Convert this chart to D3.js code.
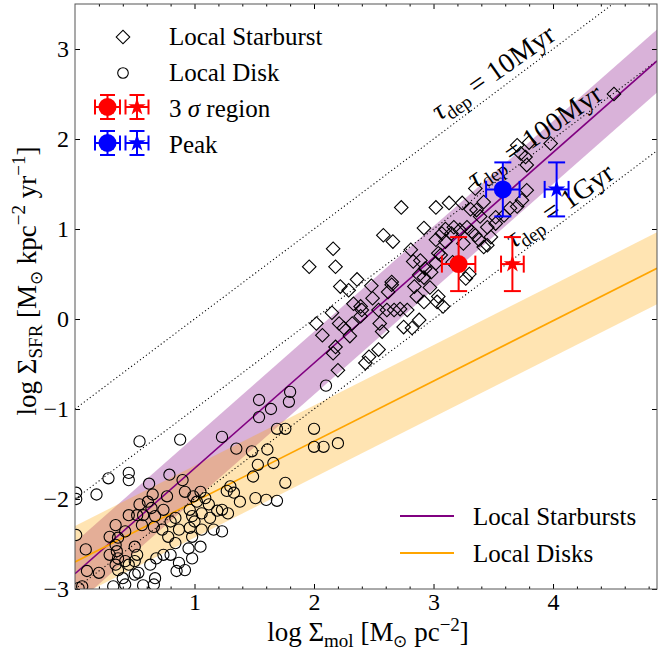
<!DOCTYPE html>
<html><head><meta charset="utf-8">
<script src="https://cdn.jsdelivr.net/npm/d3@7"></script>
<style>
body{margin:0;background:#fff}
svg{display:block}
text{font-family:"Liberation Serif","Times New Roman",serif;fill:#000}
</style>
</head><body>
<svg id="c" width="658" height="654"></svg>
<script>
// ---------------- data ----------------
const xDomain = [0, 4.87];
const yDomain = [-3, 3.5];
const xTicks = [1, 2, 3, 4];
const yTicks = [-3, -2, -1, 0, 1, 2, 3];

// Local Starburst (diamonds): [log Σmol, log ΣSFR]
const starburst = [
 [2.73,1.24],[3.02,1.24],[2.92,1.01],[2.58,0.93],[2.66,0.86],[2.16,0.78],[1.96,0.58],[2.18,0.58],
 [2.81,0.77],[2.83,0.64],[2.89,0.65],[2.92,0.46],[3.04,0.73],[2.97,0.35],[2.92,0.19],[3.03,0.19],
 [2.22,0.36],[2.29,0.32],[2.36,0.44],[2.48,0.37],[2.49,0.23],[2.65,0.41],[2.65,0.38],[2.33,0.17],
 [2.39,0.14],[2.40,0.10],[2.15,0.07],[2.02,-0.05],[2.07,-0.18],[2.21,-0.05],[2.25,-0.10],[2.30,-0.19],
 [2.32,-0.05],[2.54,0.10],[2.61,0.10],[2.67,0.10],[2.72,0.11],[2.55,-0.05],[2.57,-0.14],[2.75,-0.09],
 [2.82,-0.10],[2.88,-0.01],[2.86,0.25],[2.18,-0.31],[2.16,-0.38],[2.20,-0.57],[2.54,-0.34],[2.46,-0.42],
 [2.43,-0.49],[3.35,1.45],[3.13,1.29],[3.24,1.29],[3.36,1.21],[3.07,0.95],[3.17,1.02],[3.22,0.99],
 [3.28,1.02],[3.35,0.93],[3.45,0.82],[3.38,0.88],[3.02,0.88],[3.10,0.86],[3.06,0.71],[3.02,0.62],
 [2.93,0.56],[2.88,0.49],[3.04,0.25],[3.08,0.14],[3.27,0.45],[3.25,0.84],[2.78,0.10],[3.70,1.93],
 [3.80,1.96],[3.73,1.84],[3.78,1.71],[3.42,1.30],[3.78,1.43],[3.74,1.32],[3.70,1.25],[3.64,1.23],
 [3.59,1.15],[3.52,1.13],[3.45,1.02],[3.48,0.91],[4.51,2.50],[3.98,1.95],[3.77,1.80],[3.39,1.14],
 [3.31,1.22],[3.10,1.00],[3.15,0.95],[3.52,1.06],[2.84,0.36],[3.16,0.63],[3.30,0.50],[2.98,0.52],
 [2.62,0.30],[2.39,0.03],[3.42,0.80],[3.32,0.97]
];

// Local Disk (circles): [log Σmol, log ΣSFR]
const disk = [
 [0.88,-1.34],[1.23,-1.31],[1.35,-1.44],[1.48,-1.47],[1.61,-1.45],[1.54,-0.90],[1.64,-1.00],[1.54,-1.09],
 [1.80,-0.81],[1.79,-0.92],[1.69,-1.22],[1.76,-1.22],[1.53,-1.62],[1.66,-1.60],[2.00,-1.22],[2.00,-1.42],
 [2.08,-1.42],[2.20,-1.38],[2.10,-0.74],[1.49,-1.75],[1.76,-1.82],[1.51,-1.99],[1.60,-2.01],[1.69,-2.02],
 [0.54,-1.36],[0.28,-1.77],[0.45,-1.71],[0.45,-1.79],[0.18,-1.95],[0.01,-1.93],[0.01,-2.00],[0.62,-1.83],
 [0.01,-2.40],[0.79,-1.73],[0.90,-1.79],[0.65,-1.95],[0.77,-1.97],[0.92,-1.92],[0.99,-1.97],[1.05,-1.92],
 [1.09,-1.99],[1.02,-2.03],[1.12,-2.06],[1.27,-1.91],[1.33,-1.93],[1.38,-2.03],[1.19,-2.13],[1.28,-2.16],
 [1.13,-2.21],[1.06,-2.16],[0.96,-2.12],[0.98,-2.19],[1.00,-2.25],[1.06,-2.34],[0.96,-2.32],[0.98,-2.42],
 [1.23,-2.36],[1.16,-2.34],[0.95,-2.55],[1.05,-2.53],[0.98,-2.66],[0.87,-2.71],[0.92,-2.79],[0.85,-2.80],
 [0.84,-2.49],[0.80,-2.62],[0.74,-2.62],[0.68,-2.66],[0.63,-2.73],[0.53,-2.82],[0.50,-2.84],[0.67,-2.88],
 [0.66,-2.95],[0.57,-2.96],[0.40,-2.88],[0.42,-2.95],[0.32,-2.97],[0.20,-2.82],[0.10,-2.80],[0.06,-2.97],
 [0.03,-2.99],[0.34,-2.73],[0.36,-2.66],[0.35,-2.58],[0.42,-2.69],[0.45,-2.73],[0.50,-2.69],[0.52,-2.62],
 [0.50,-2.53],[0.29,-2.42],[0.34,-2.51],[0.36,-2.43],[0.34,-2.29],[0.42,-2.36],[0.45,-2.18],[0.52,-2.18],
 [0.56,-2.29],[0.67,-2.19],[0.66,-2.31],[0.73,-2.34],[0.80,-2.25],[0.84,-2.21],[0.87,-2.34],[0.78,-2.42],
 [0.74,-2.12],[0.64,-2.10],[0.61,-2.03],[0.54,-2.06],[0.29,-2.62],[0.36,-2.79],[1.30,-1.86],[0.09,-2.56],
 [1.23,-2.12],[0.57,-2.18]
];

// Fits: log ΣSFR = intercept + slope * log Σmol, shaded ± scatter
const fitNames = ["Local Starbursts", "Local Disks"];
const fitIntercepts = [-2.83, -2.70];
const fitSlopes = [1.17, 0.67];
const fitScatter = [0.35, 0.40];

// Depletion-time lines: log ΣSFR = log Σmol - offset
const tdepNames = ["10Myr", "100Myr", "1Gyr"];
const tdepOffsets = [1, 2, 3];
const tdepLabelX = [3.05, 3.35, 3.67];
const tdepLabelY = [2.20, 1.45, 0.78];

// Measured points (circle and star), rows: 3σ region, Peak
const pointNames = ["3 σ region", "Peak"];
const circleX = [3.21, 3.58];
const starX = [3.66, 4.03];
const pointY = [0.61, 1.44];
const circleXErr = [0.14, 0.14];
const starXErr = [0.095, 0.10];
const pointYErr = [0.30, 0.30];

// ---------------- drawing ----------------
const pointColors = ["#ff0000", "#0000ff"];
const fitColors = ["#800080", "#ffa500"];
const svg = d3.select("#c");
const L = 75, R = 657, T = 4, B = 589;
const x = d3.scaleLinear().domain(xDomain).range([L, R]);
const y = d3.scaleLinear().domain(yDomain).range([B, T]);

svg.append("defs").append("clipPath").attr("id", "clip")
  .append("rect").attr("x", L).attr("y", T).attr("width", R - L).attr("height", B - T);
const plot = svg.append("g").attr("clip-path", "url(#clip)");

// bands
fitNames.forEach((n, i) => {
  const a = fitIntercepts[i], b = fitSlopes[i], w = fitScatter[i];
  const area = d3.area().x(d => x(d))
    .y0(d => y(a + b * d - w)).y1(d => y(a + b * d + w));
  plot.append("path").datum(xDomain).attr("d", area)
    .attr("fill", fitColors[i]).attr("fill-opacity", 0.3);
});

// depletion lines
tdepOffsets.forEach(o => {
  const line = d3.line().x(d => x(d)).y(d => y(d - o));
  plot.append("path").datum(xDomain).attr("d", line)
    .attr("fill", "none").attr("stroke", "#000").attr("stroke-width", 1.1)
    .attr("stroke-dasharray", "1.1,2.6");
});

// fit lines
fitNames.forEach((n, i) => {
  const line = d3.line().x(d => x(d)).y(d => y(fitIntercepts[i] + fitSlopes[i] * d));
  plot.append("path").datum(xDomain).attr("d", line)
    .attr("fill", "none").attr("stroke", fitColors[i]).attr("stroke-width", 1.6);
});

// disk circles
plot.selectAll("circle.disk").data(disk).join("circle")
  .attr("cx", d => x(d[0])).attr("cy", d => y(d[1])).attr("r", 5.6)
  .attr("fill", "none").attr("stroke", "#000").attr("stroke-width", 1.1);

// starburst diamonds
const diamond = d3.symbol(d3.symbolSquare, 92)();
plot.selectAll("path.sb").data(starburst).join("path")
  .attr("d", diamond)
  .attr("transform", d => `translate(${x(d[0])},${y(d[1])}) rotate(45)`)
  .attr("fill", "none").attr("stroke", "#000").attr("stroke-width", 1.1);

// tdep labels
tdepNames.forEach((n, i) => {
  const t = svg.append("text")
    .attr("transform", `translate(${x(tdepLabelX[i])},${y(tdepLabelY[i])}) rotate(-35)`)
    .attr("font-size", 28);
  t.append("tspan").attr("font-style", "italic").text("τ");
  t.append("tspan").attr("font-size", 19).attr("dy", 6).text("dep");
  t.append("tspan").attr("dy", -6).text(" = " + n);
});

// error-bar points
function errPoint(g, cx, cy, hx, hy, cap, color, kind) {
  const s = g.append("g").attr("stroke", color).attr("stroke-width", 2).attr("fill", "none");
  s.append("line").attr("x1", cx - hx).attr("x2", cx + hx).attr("y1", cy).attr("y2", cy);
  s.append("line").attr("x1", cx).attr("x2", cx).attr("y1", cy - hy).attr("y2", cy + hy);
  s.append("line").attr("x1", cx - cap).attr("x2", cx + cap).attr("y1", cy - hy).attr("y2", cy - hy);
  s.append("line").attr("x1", cx - cap).attr("x2", cx + cap).attr("y1", cy + hy).attr("y2", cy + hy);
  s.append("line").attr("x1", cx - hx).attr("x2", cx - hx).attr("y1", cy - cap).attr("y2", cy + cap);
  s.append("line").attr("x1", cx + hx).attr("x2", cx + hx).attr("y1", cy - cap).attr("y2", cy + cap);
  if (kind === "circle") {
    g.append("circle").attr("cx", cx).attr("cy", cy).attr("r", 9).attr("fill", color);
  } else {
    g.append("path").attr("d", d3.symbol(d3.symbolStar, 95)())
      .attr("transform", `translate(${cx},${cy})`).attr("fill", color);
  }
}
const pts = svg.append("g");
pointNames.forEach((n, i) => {
  const cy = y(pointY[i]);
  const hy = y(pointY[i] - pointYErr[i]) - cy;
  errPoint(pts, x(circleX[i]), cy, x(circleX[i] + circleXErr[i]) - x(circleX[i]), hy, 8.5, pointColors[i], "circle");
  errPoint(pts, x(starX[i]), cy, x(starX[i] + starXErr[i]) - x(starX[i]), hy, 8.5, pointColors[i], "star");
});

// axes
const minorX = d3.range(0.2, xDomain[1], 0.2).filter(v => Math.abs(v - Math.round(v)) > 1e-6);
function styleAxis(g) {
  g.select(".domain").remove();
  g.selectAll(".tick line").attr("stroke", "#000");
  g.attr("font-family", null).attr("font-size", null);
  g.selectAll("text").attr("font-size", 24);
}
svg.append("g").attr("transform", `translate(0,${B})`)
  .call(d3.axisBottom(x).tickValues(xTicks).tickSize(-5).tickPadding(4).tickFormat(d3.format("d"))).call(styleAxis);
svg.append("g").attr("transform", `translate(0,${B})`)
  .call(d3.axisBottom(x).tickValues(minorX).tickSize(-2.5).tickFormat("")).call(styleAxis);
svg.append("g").attr("transform", `translate(0,${T})`)
  .call(d3.axisTop(x).tickValues(xTicks).tickSize(-5).tickFormat("")).call(styleAxis);
svg.append("g").attr("transform", `translate(0,${T})`)
  .call(d3.axisTop(x).tickValues(minorX).tickSize(-2.5).tickFormat("")).call(styleAxis);
svg.append("g").attr("transform", `translate(${L},0)`)
  .call(d3.axisLeft(y).tickValues(yTicks).tickSize(-5).tickPadding(6).tickFormat(d3.format("d"))).call(styleAxis);
svg.append("g").attr("transform", `translate(${R},0)`)
  .call(d3.axisRight(y).tickValues(yTicks).tickSize(-5).tickFormat("")).call(styleAxis);

svg.append("rect").attr("x", L).attr("y", T).attr("width", R - L).attr("height", B - T)
  .attr("fill", "none").attr("stroke", "#555").attr("stroke-width", 1);

// axis labels
const xl = svg.append("text").attr("x", (L + R) / 2 + 2).attr("y", 641)
  .attr("text-anchor", "middle").attr("font-size", 27);
xl.append("tspan").text("log Σ");
xl.append("tspan").attr("font-size", 19).attr("dy", 6).text("mol");
xl.append("tspan").attr("dy", -6).text(" [M");
xl.append("tspan").attr("font-size", 17).attr("dy", 6).text("⊙");
xl.append("tspan").attr("dy", -6).text(" pc");
xl.append("tspan").attr("font-size", 19).attr("dy", -10).text("−2");
xl.append("tspan").attr("dy", 10).text("]");

const yl = svg.append("text").attr("transform", "translate(36,281) rotate(-90)")
  .attr("text-anchor", "middle").attr("font-size", 27);
yl.append("tspan").text("log Σ");
yl.append("tspan").attr("font-size", 19).attr("dy", 6).text("SFR");
yl.append("tspan").attr("dy", -6).text(" [M");
yl.append("tspan").attr("font-size", 17).attr("dy", 6).text("⊙");
yl.append("tspan").attr("dy", -6).text(" kpc");
yl.append("tspan").attr("font-size", 19).attr("dy", -11).text("−2");
yl.append("tspan").attr("dy", 11).text(" yr");
yl.append("tspan").attr("font-size", 19).attr("dy", -11).text("−1");
yl.append("tspan").attr("dy", 11).text("]");

// legend top-left
const leg = svg.append("g");
leg.append("path").attr("d", diamond).attr("transform", "translate(123,37) rotate(45)")
  .attr("fill", "none").attr("stroke", "#000").attr("stroke-width", 1.1);
leg.append("text").attr("x", 169).attr("y", 45).attr("font-size", 25).text("Local Starburst");
leg.append("circle").attr("cx", 123).attr("cy", 73).attr("r", 5.3)
  .attr("fill", "none").attr("stroke", "#000").attr("stroke-width", 1.1);
leg.append("text").attr("x", 169).attr("y", 81).attr("font-size", 25).text("Local Disk");
const legY = [107, 143];
pointNames.forEach((n, i) => {
  errPoint(leg, 107.5, legY[i], 12.5, 12, 7.5, pointColors[i], "circle");
  errPoint(leg, 137, legY[i], 11.5, 12, 7.5, pointColors[i], "star");
  const t = leg.append("text").attr("x", 169).attr("y", legY[i] + 9.5).attr("font-size", 25);
  if (n.indexOf("σ") >= 0) {
    const parts = n.split("σ");
    t.append("tspan").text(parts[0]);
    t.append("tspan").attr("font-style", "italic").text("σ");
    t.append("tspan").text(parts[1]);
  } else t.text(n);
});

// legend bottom-right
const legY2 = [516, 553];
fitNames.forEach((n, i) => {
  leg.append("line").attr("x1", 400).attr("x2", 454).attr("y1", legY2[i]).attr("y2", legY2[i])
    .attr("stroke", fitColors[i]).attr("stroke-width", 2);
  leg.append("text").attr("x", 473).attr("y", legY2[i] + 9).attr("font-size", 25).text(n);
});
</script>
</body></html>
